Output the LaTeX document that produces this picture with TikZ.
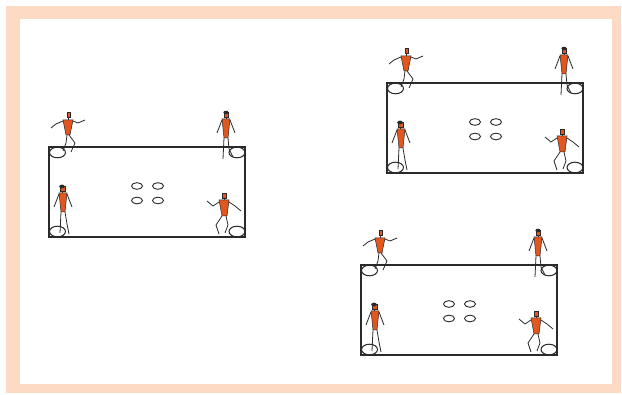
\documentclass[tikz,border=0pt]{standalone}
\usepackage{tikz}
\usetikzlibrary{calc}

\definecolor{peach}{HTML}{FDDAC4}
\definecolor{shirt}{HTML}{E2561F}
\definecolor{ink}{HTML}{2A2A2A}

\tikzset{
  limb/.style={ink, line width=0.8pt},
  torso/.style={draw=ink, fill=shirt, line width=0.5pt},
  hair/.style={fill=ink},
  hoop/.style={ink, line width=1pt},
  cone/.style={ink, line width=0.9pt},
  % figures, placed from the field's top left corner
  pics/runner/.style={code={
    \filldraw[torso] (18,-35) rectangle (21,-30);
    \draw[limb] (19.5,-30) -- (19.5,-27);
    \filldraw[torso] (14,-27) -- (24,-27) -- (21,-12) -- (17,-12) -- cycle;
    \draw[limb] (14,-26) -- (7,-23) -- (2,-19);
    \draw[limb] (24,-26) -- (29,-24) -- (36,-27);
    \draw[limb] (18,-12) -- (17,-4) -- (14,4);
    \draw[limb] (20,-12) -- (26,-4) -- (22,5);
  }},
  pics/stander/.style={code={
    \filldraw[torso] (175,-35) rectangle (179,-30);
    \fill[hair] (177,-34.5) ellipse [x radius=2.6, y radius=1.8];
    \draw[limb] (177,-30) -- (177,-28);
    \filldraw[torso] (173,-28) -- (181,-28) -- (179,-9) -- (175,-9) -- cycle;
    \draw[limb] (173,-27) -- (168,-14);
    \draw[limb] (181,-27) -- (186,-14);
    \draw[limb] (175,-9) -- (174,12);
    \draw[limb] (179,-9) -- (180,2) -- (184,10);
  }},
  pics/girl/.style={code={
    \filldraw[torso] (11,39) rectangle (16,44);
    \fill[hair] (13,39.5) ellipse [x radius=2.8, y radius=1.9];
    \draw[limb] (13.5,44) -- (13.5,46);
    \filldraw[torso] (10,46) -- (18,46) -- (16,65) -- (12,65) -- cycle;
    \draw[limb] (10,47) -- (5,60);
    \draw[limb] (18,47) -- (23,60);
    \draw[limb] (12,65) -- (11,86);
    \draw[limb] (16,65) -- (18,77) -- (20,87);
  }},
  pics/kicker/.style={code={
    \filldraw[torso] (173,46) rectangle (177,51);
    \draw[limb] (175,51) -- (175,53);
    \filldraw[torso] (170,53) -- (180,53) -- (178,69) -- (173,69) -- cycle;
    \draw[limb] (170,55) -- (164,59) -- (158,54);
    \draw[limb] (180,55) -- (186,59) -- (192,64);
    \draw[limb] (173,69) -- (167,78) -- (170,87);
    \draw[limb] (177,69) -- (179,78) -- (176,86);
  }},
}

\begin{document}
\begin{tikzpicture}[x=1pt,y=-1pt]
\useasboundingbox (0,0) rectangle (622,395);
% frame
\fill[peach] (6,6) rectangle (621,393);
\fill[white] (20,19) rectangle (612,384);

% three identical fields
\foreach \fx/\fy in {49/147, 387/83, 361/265}{
  \begin{scope}[shift={(\fx,\fy)}]
    \draw[ink, line width=1.1pt] (0,0) rectangle (196,90);
    % hoops in the corners
    \foreach \hx/\hy in {8.5/5.5, 188/5.5, 8.5/84.5, 188/84.5}
      \draw[hoop] (\hx,\hy) ellipse [x radius=8, y radius=5.3];
    % cones in the middle
    \foreach \cx/\cy in {88/39, 109/39, 88/53.5, 109/53.5}
      \draw[cone] (\cx,\cy) ellipse [x radius=5.5, y radius=3.3];
    \pic {runner};
    \pic {stander};
    \pic {girl};
    \pic {kicker};
  \end{scope}
}
\end{tikzpicture}
\end{document}
